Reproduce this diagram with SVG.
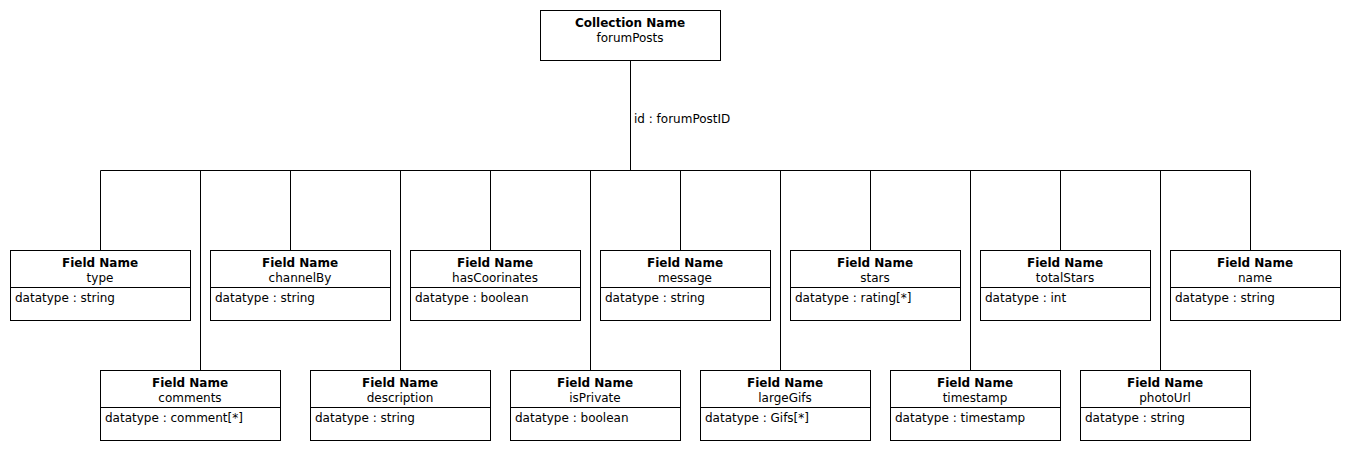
<svg xmlns="http://www.w3.org/2000/svg" width="1350" height="450" viewBox="0 0 1350 450">
<style>
text{font-family:"DejaVu Sans",sans-serif;font-size:12px;fill:#000}
.b{font-weight:bold}
.c{text-anchor:middle}
rect{fill:#fff;stroke:#000;stroke-width:1}
line,path{stroke:#000;stroke-width:1;fill:none}
</style>
<rect x="0" y="0" width="1350" height="450" style="stroke:none"/>
<g id="connectors">
<path d="M630.5 60.5V170.5M100.5 170.5H1250.5"/>
<path d="M100.5 170.5V250.5M290.5 170.5V250.5M490.5 170.5V250.5M680.5 170.5V250.5M870.5 170.5V250.5M1060.5 170.5V250.5M1250.5 170.5V250.5"/>
<path d="M200.5 170.5V370.5M400.5 170.5V370.5M590.5 170.5V370.5M780.5 170.5V370.5M970.5 170.5V370.5M1160.5 170.5V370.5"/>
<text x="634" y="123">id : forumPostID</text>
</g>
<g id="collection">
<rect x="540.5" y="10.5" width="180" height="50"/>
<text class="b c" x="630" y="27">Collection Name</text>
<text class="c" x="630" y="42">forumPosts</text>
</g>
<g id="f-type"><rect x="10.5" y="250.5" width="180" height="70"/><line x1="10.5" y1="287.5" x2="190.5" y2="287.5"/><text class="b c" x="100" y="267">Field Name</text><text class="c" x="100" y="282">type</text><text x="15" y="302">datatype : string</text></g>
<g id="f-channelBy"><rect x="210.5" y="250.5" width="180" height="70"/><line x1="210.5" y1="287.5" x2="390.5" y2="287.5"/><text class="b c" x="300" y="267">Field Name</text><text class="c" x="300" y="282">channelBy</text><text x="215" y="302">datatype : string</text></g>
<g id="f-hasCoorinates"><rect x="410.5" y="250.5" width="170" height="70"/><line x1="410.5" y1="287.5" x2="580.5" y2="287.5"/><text class="b c" x="495" y="267">Field Name</text><text class="c" x="495" y="282">hasCoorinates</text><text x="415" y="302">datatype : boolean</text></g>
<g id="f-message"><rect x="600.5" y="250.5" width="170" height="70"/><line x1="600.5" y1="287.5" x2="770.5" y2="287.5"/><text class="b c" x="685" y="267">Field Name</text><text class="c" x="685" y="282">message</text><text x="605" y="302">datatype : string</text></g>
<g id="f-stars"><rect x="790.5" y="250.5" width="170" height="70"/><line x1="790.5" y1="287.5" x2="960.5" y2="287.5"/><text class="b c" x="875" y="267">Field Name</text><text class="c" x="875" y="282">stars</text><text x="795" y="302">datatype : rating[*]</text></g>
<g id="f-totalStars"><rect x="980.5" y="250.5" width="170" height="70"/><line x1="980.5" y1="287.5" x2="1150.5" y2="287.5"/><text class="b c" x="1065" y="267">Field Name</text><text class="c" x="1065" y="282">totalStars</text><text x="985" y="302">datatype : int</text></g>
<g id="f-name"><rect x="1170.5" y="250.5" width="170" height="70"/><line x1="1170.5" y1="287.5" x2="1340.5" y2="287.5"/><text class="b c" x="1255" y="267">Field Name</text><text class="c" x="1255" y="282">name</text><text x="1175" y="302">datatype : string</text></g>
<g id="f-comments"><rect x="100.5" y="370.5" width="180" height="70"/><line x1="100.5" y1="407.5" x2="280.5" y2="407.5"/><text class="b c" x="190" y="387">Field Name</text><text class="c" x="190" y="402">comments</text><text x="105" y="422">datatype : comment[*]</text></g>
<g id="f-description"><rect x="310.5" y="370.5" width="180" height="70"/><line x1="310.5" y1="407.5" x2="490.5" y2="407.5"/><text class="b c" x="400" y="387">Field Name</text><text class="c" x="400" y="402">description</text><text x="315" y="422">datatype : string</text></g>
<g id="f-isPrivate"><rect x="510.5" y="370.5" width="170" height="70"/><line x1="510.5" y1="407.5" x2="680.5" y2="407.5"/><text class="b c" x="595" y="387">Field Name</text><text class="c" x="595" y="402">isPrivate</text><text x="515" y="422">datatype : boolean</text></g>
<g id="f-largeGifs"><rect x="700.5" y="370.5" width="170" height="70"/><line x1="700.5" y1="407.5" x2="870.5" y2="407.5"/><text class="b c" x="785" y="387">Field Name</text><text class="c" x="785" y="402">largeGifs</text><text x="705" y="422">datatype : Gifs[*]</text></g>
<g id="f-timestamp"><rect x="890.5" y="370.5" width="170" height="70"/><line x1="890.5" y1="407.5" x2="1060.5" y2="407.5"/><text class="b c" x="975" y="387">Field Name</text><text class="c" x="975" y="402">timestamp</text><text x="895" y="422">datatype : timestamp</text></g>
<g id="f-photoUrl"><rect x="1080.5" y="370.5" width="170" height="70"/><line x1="1080.5" y1="407.5" x2="1250.5" y2="407.5"/><text class="b c" x="1165" y="387">Field Name</text><text class="c" x="1165" y="402">photoUrl</text><text x="1085" y="422">datatype : string</text></g>
</svg>
